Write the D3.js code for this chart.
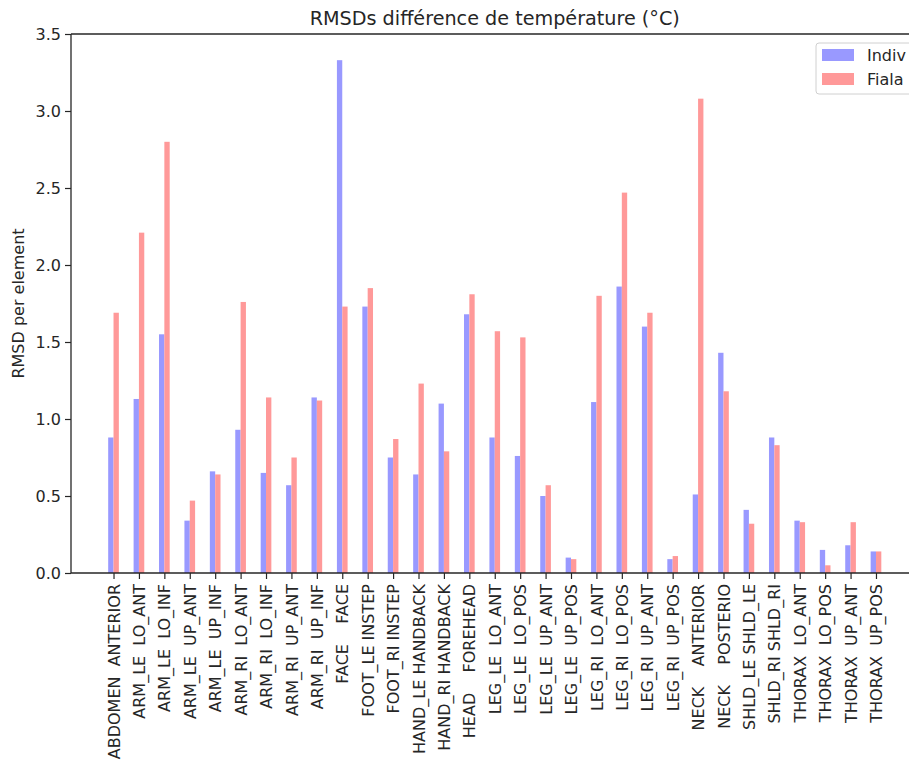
<!DOCTYPE html>
<html><head><meta charset="utf-8">
<script src="https://cdn.jsdelivr.net/npm/d3@7"></script>
<style>
body{margin:0;background:#fff;}
text{font-family:"DejaVu Sans",sans-serif;fill:#262626;}
.xl text{white-space:pre;}
</style></head>
<body><svg id="c" width="909" height="760"></svg>
<script>
const categories = ["ABDOMEN  ANTERIOR","ARM_LE  LO_ANT","ARM_LE  LO_INF","ARM_LE  UP_ANT","ARM_LE  UP_INF",
 "ARM_RI  LO_ANT","ARM_RI  LO_INF","ARM_RI  UP_ANT","ARM_RI  UP_INF","FACE    FACE",
 "FOOT_LE INSTEP","FOOT_RI INSTEP","HAND_LE HANDBACK","HAND_RI HANDBACK","HEAD    FOREHEAD",
 "LEG_LE  LO_ANT","LEG_LE  LO_POS","LEG_LE  UP_ANT","LEG_LE  UP_POS","LEG_RI  LO_ANT",
 "LEG_RI  LO_POS","LEG_RI  UP_ANT","LEG_RI  UP_POS","NECK    ANTERIOR","NECK    POSTERIO",
 "SHLD_LE SHLD_LE","SHLD_RI SHLD_RI","THORAX  LO_ANT","THORAX  LO_POS","THORAX  UP_ANT","THORAX  UP_POS"];
const indiv = [0.88,1.13,1.55,0.34,0.66,0.93,0.65,0.57,1.14,3.33,1.73,0.75,0.64,1.10,1.68,
 0.88,0.76,0.50,0.10,1.11,1.86,1.60,0.09,0.51,1.43,0.41,0.88,0.34,0.15,0.18,0.14];
const fiala = [1.69,2.21,2.80,0.47,0.64,1.76,1.14,0.75,1.12,1.73,1.85,0.87,1.23,0.79,1.81,
 1.57,1.53,0.57,0.09,1.80,2.47,1.69,0.11,3.08,1.18,0.32,0.83,0.33,0.05,0.33,0.14];
const yTicks = [0,0.5,1.0,1.5,2.0,2.5,3.0,3.5];
const seriesNames = ["Indiv","Fiala"];
const colors = ["#9999ff","#ff9999"];
const title = "RMSDs différence de température (°C)";
const yLabel = "RMSD per element";

const svg = d3.select("#c");
const L=71, R=918.5, T=34, B=573;
const x = d3.scaleLinear().domain([-1.673, categories.length-1+1.673]).range([L,R]);
const y = d3.scaleLinear().domain([0,3.5]).range([B,T]);
const bw = x(0.21)-x(0);
const FS = 16;

// bars
const series=[indiv,fiala];
series.forEach((s,k)=>{
  svg.append("g").selectAll("rect").data(s).join("rect")
    .attr("x",(d,i)=> k===0 ? x(i)-bw : x(i))
    .attr("y",d=>y(d)).attr("width",bw).attr("height",d=>y(0)-y(d))
    .attr("fill",colors[k]);
});

// y axis
const ya = svg.append("g").attr("transform",`translate(${L},0)`)
  .call(d3.axisLeft(y).tickValues(yTicks).tickFormat(d3.format(".1f")).tickSize(6).tickPadding(4));
ya.select(".domain").remove();
ya.selectAll("line").attr("stroke","#262626").attr("stroke-width",1.2);
ya.selectAll("text").attr("font-size",FS).style("font-family","DejaVu Sans");

// x axis
const xa = svg.append("g").attr("class","xl").attr("transform",`translate(0,${B})`)
  .call(d3.axisBottom(x).tickValues(d3.range(categories.length)).tickFormat(i=>categories[i]).tickSize(6).tickPadding(4));
xa.select(".domain").remove();
xa.selectAll("line").attr("stroke","#262626").attr("stroke-width",1.2);
xa.selectAll("text").attr("font-size",FS).style("font-family","DejaVu Sans")
  .attr("transform","rotate(-90)").attr("text-anchor","end")
  .attr("x",-11).attr("y",0).attr("dy","0.35em");

// spines
svg.append("line").attr("x1",L).attr("x2",L).attr("y1",T).attr("y2",B).attr("stroke","#262626").attr("stroke-width",1.3);
svg.append("line").attr("x1",L).attr("x2",R).attr("y1",B).attr("y2",B).attr("stroke","#262626").attr("stroke-width",1.3);
svg.append("line").attr("x1",L).attr("x2",R).attr("y1",T).attr("y2",T).attr("stroke","#262626").attr("stroke-width",1.3);
svg.append("line").attr("x1",R).attr("x2",R).attr("y1",T).attr("y2",B).attr("stroke","#262626").attr("stroke-width",1.3);

// title
svg.append("text").attr("x",(L+R)/2).attr("y",25).attr("text-anchor","middle").attr("font-size",19.2).text(title);
// y label
svg.append("text").attr("transform",`translate(24,${(T+B)/2}) rotate(-90)`).attr("text-anchor","middle").attr("font-size",FS).text(yLabel);

// legend
const lg = svg.append("g");
lg.append("rect").attr("x",816).attr("y",43).attr("width",100).attr("height",51).attr("rx",3)
  .attr("fill","#fff").attr("fill-opacity",0.8).attr("stroke","#d0d0d0");
seriesNames.forEach((n,k)=>{
  lg.append("rect").attr("x",822).attr("y",49+k*24).attr("width",32).attr("height",12).attr("fill",colors[k]);
  lg.append("text").attr("x",867).attr("y",55+k*24).attr("dy","0.35em").attr("font-size",FS).text(n);
});
</script></body></html>
